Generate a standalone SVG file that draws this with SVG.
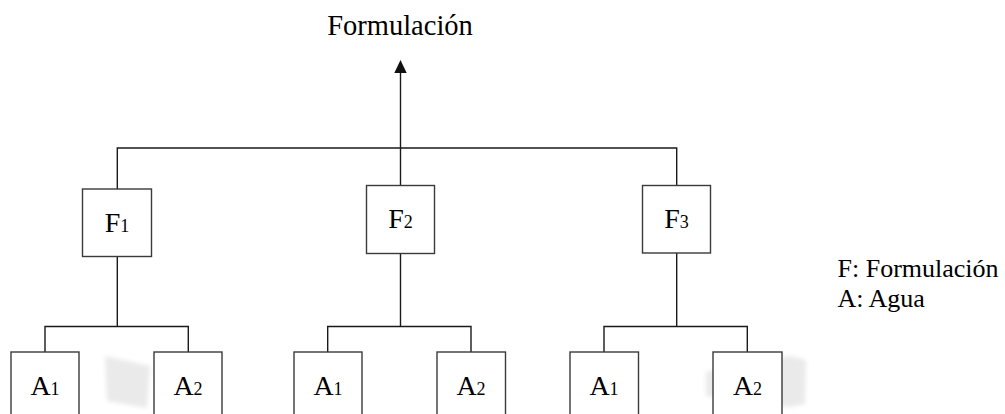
<svg xmlns="http://www.w3.org/2000/svg" width="1005" height="414" viewBox="0 0 1005 414">
  <defs>
    <style>
      .box { fill: #ffffff; stroke: #3a3a3a; stroke-width: 1.4; }
      .wire { fill: none; stroke: #1a1a1a; stroke-width: 1.4; }
      .lbl { fill: #000000; font-family: "Liberation Serif", "Times New Roman", Times, serif; }
      .big { font-size: 28px; }
      .sub { font-size: 18px; }
      .title { font-size: 28.5px; }
      .legend { font-size: 26px; }
      .smudge { fill: #eaeaea; filter: url(#soft); }
    </style>
    <filter id="soft" x="-20%" y="-20%" width="140%" height="140%">
      <feGaussianBlur stdDeviation="2"/>
    </filter>
  </defs>

  <rect width="1005" height="414" fill="#ffffff"/>

  <!-- faint grey marks on the page -->
  <g id="marks">
    <polygon class="smudge" points="105,356 150,366 147,408 107,401"/>
    <polygon class="smudge" points="706,372 790,356 806,360 805,404 790,407 706,396"/>
  </g>

  <!-- title -->
  <text class="lbl title" x="400" y="35" text-anchor="middle">Formulación</text>

  <!-- connectors -->
  <g id="connectors">
    <!-- top level -->
    <path class="wire" d="M400.5,185.5 V70"/>
    <polygon points="400.5,60 394.3,73 406.7,73" fill="#111111"/>
    <path class="wire" d="M117.3,189 V148 H676.7 V185.5"/>
    <!-- F1 branch -->
    <path class="wire" d="M117.3,256.5 V326.5 M45,352 V326.5 H188.3 V352"/>
    <!-- F2 branch -->
    <path class="wire" d="M400.5,253.5 V326.5 M327.7,352 V326.5 H471 V352"/>
    <!-- F3 branch -->
    <path class="wire" d="M676.7,253 V326.5 M604,352 V326.5 H747.3 V352"/>
  </g>

  <!-- formulation nodes -->
  <g id="F1">
    <rect class="box" x="82.5" y="189" width="69" height="67.5"/>
    <text class="lbl" x="117" y="231.7" text-anchor="middle"><tspan class="big">F</tspan><tspan class="sub">1</tspan></text>
  </g>
  <g id="F2">
    <rect class="box" x="366.5" y="185.5" width="68" height="68"/>
    <text class="lbl" x="400.5" y="228" text-anchor="middle"><tspan class="big">F</tspan><tspan class="sub">2</tspan></text>
  </g>
  <g id="F3">
    <rect class="box" x="642.5" y="185.5" width="68" height="67.5"/>
    <text class="lbl" x="676.5" y="228" text-anchor="middle"><tspan class="big">F</tspan><tspan class="sub">3</tspan></text>
  </g>

  <!-- water nodes -->
  <g id="F1-A1">
    <rect class="box" x="11" y="352" width="68" height="70"/>
    <text class="lbl" x="45" y="395" text-anchor="middle"><tspan class="big">A</tspan><tspan class="sub">1</tspan></text>
  </g>
  <g id="F1-A2">
    <rect class="box" x="154" y="352" width="68" height="70"/>
    <text class="lbl" x="188" y="395" text-anchor="middle"><tspan class="big">A</tspan><tspan class="sub">2</tspan></text>
  </g>
  <g id="F2-A1">
    <rect class="box" x="294" y="352" width="68" height="70"/>
    <text class="lbl" x="328" y="395" text-anchor="middle"><tspan class="big">A</tspan><tspan class="sub">1</tspan></text>
  </g>
  <g id="F2-A2">
    <rect class="box" x="437" y="352" width="68.5" height="70"/>
    <text class="lbl" x="471" y="395" text-anchor="middle"><tspan class="big">A</tspan><tspan class="sub">2</tspan></text>
  </g>
  <g id="F3-A1">
    <rect class="box" x="570" y="352" width="68.5" height="70"/>
    <text class="lbl" x="604" y="395" text-anchor="middle"><tspan class="big">A</tspan><tspan class="sub">1</tspan></text>
  </g>
  <g id="F3-A2">
    <rect class="box" x="713" y="352" width="69" height="70"/>
    <text class="lbl" x="747.5" y="395" text-anchor="middle"><tspan class="big">A</tspan><tspan class="sub">2</tspan></text>
  </g>

  <!-- legend -->
  <g id="legend">
    <text class="lbl legend" x="837.5" y="277">F: Formulación</text>
    <text class="lbl legend" x="837.5" y="307">A: Agua</text>
  </g>
</svg>
